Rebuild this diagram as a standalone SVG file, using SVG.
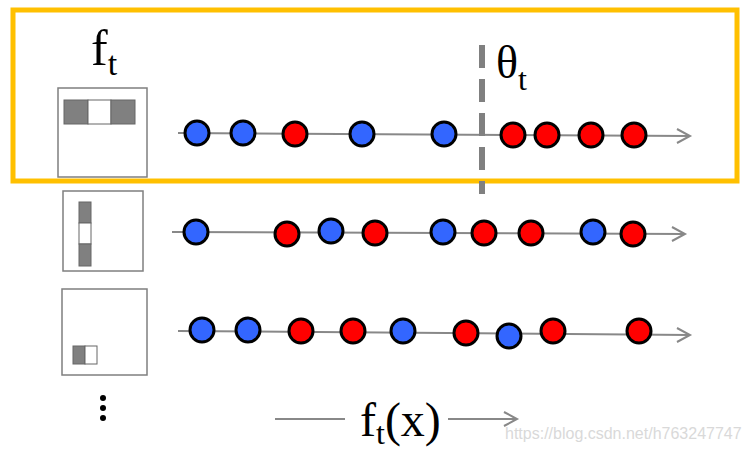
<svg xmlns="http://www.w3.org/2000/svg" width="749" height="452" viewBox="0 0 749 452">
<style>
.axis{stroke:#888;stroke-width:2;fill:none}
.head{stroke:#888;stroke-width:2;fill:none}
.b{fill:#3366FF;stroke:#000;stroke-width:3}
.r{fill:#FF0000;stroke:#000;stroke-width:3}
.box{fill:#fff;stroke:#7f7f7f;stroke-width:1.5}
.g{fill:#808080;stroke:#666;stroke-width:1}
.w{fill:#fff;stroke:#666;stroke-width:1}
.tm{font-family:"Liberation Serif","Times New Roman",serif;fill:#000}
</style>
<rect width="749" height="452" fill="#fff"/>
<rect id="highlight" x="13" y="10" width="724" height="171" fill="none" stroke="#FFC000" stroke-width="5"/>
<g id="connectors">
<line class="axis" x1="178" y1="133" x2="690" y2="136"/>
<polyline class="head" points="677,129 690,136 677,143"/>
<line class="axis" x1="172" y1="232" x2="685" y2="234"/>
<polyline class="head" points="672,227 685,234 672,241"/>
<line class="axis" x1="178" y1="331" x2="690" y2="335"/>
<polyline class="head" points="677,328 690,335 677,342"/>
<line class="axis" x1="275" y1="419" x2="345" y2="419"/>
<line class="axis" x1="448" y1="419" x2="517" y2="419"/>
<polyline class="head" points="504,412 517,419 504,426"/>
<line id="threshold" x1="482" y1="45" x2="482" y2="194" stroke="#808080" stroke-width="6" stroke-dasharray="23,11"/>
</g>
<g id="label-ft"><text class="tm" x="91" y="65" font-size="50">f<tspan font-size="34" dy="10">t</tspan></text></g>
<g id="label-theta"><text class="tm" x="496" y="78" font-size="46">θ<tspan font-size="32" dy="12">t</tspan></text></g>
<g id="filter1">
<rect class="box" x="58" y="88" width="89" height="89"/>
<rect class="g" x="64" y="100" width="24" height="24"/>
<rect class="w" x="88" y="100" width="23" height="24"/>
<rect class="g" x="111" y="100" width="24" height="24"/>
</g>
<g id="filter2">
<rect class="box" x="63" y="191" width="80" height="80"/>
<rect class="g" x="79" y="202" width="12" height="21"/>
<rect class="w" x="79" y="223" width="12" height="21"/>
<rect class="g" x="79" y="244" width="12" height="22"/>
</g>
<g id="filter3">
<rect class="box" x="62" y="289" width="85" height="86"/>
<rect class="g" x="73" y="346" width="12" height="18"/>
<rect class="w" x="85" y="346" width="12" height="18"/>
</g>
<g id="ellipsis">
<circle cx="103" cy="398" r="3"/><circle cx="103" cy="408" r="3"/><circle cx="103" cy="418" r="3"/>
</g>
<g id="row1">
<circle class="b" cx="197" cy="133" r="12"/>
<circle class="b" cx="243" cy="133" r="12"/>
<circle class="r" cx="295" cy="134" r="12"/>
<circle class="b" cx="362" cy="134" r="12"/>
<circle class="b" cx="444" cy="134" r="12"/>
<circle class="r" cx="513" cy="135" r="12"/>
<circle class="r" cx="547" cy="135" r="12"/>
<circle class="r" cx="591" cy="135" r="12"/>
<circle class="r" cx="634" cy="135" r="12"/>
</g>
<g id="row2">
<circle class="b" cx="196" cy="232" r="12"/>
<circle class="r" cx="287" cy="234" r="12"/>
<circle class="b" cx="331" cy="231" r="12"/>
<circle class="r" cx="375" cy="233" r="12"/>
<circle class="b" cx="443" cy="232" r="12"/>
<circle class="r" cx="484" cy="233" r="12"/>
<circle class="r" cx="531" cy="233" r="12"/>
<circle class="b" cx="593" cy="232" r="12"/>
<circle class="r" cx="633" cy="234" r="12"/>
</g>
<g id="row3">
<circle class="b" cx="202" cy="330" r="12"/>
<circle class="b" cx="248" cy="330" r="12"/>
<circle class="r" cx="301" cy="331" r="12"/>
<circle class="r" cx="353" cy="331" r="12"/>
<circle class="b" cx="403" cy="331" r="12"/>
<circle class="r" cx="466" cy="333" r="12"/>
<circle class="b" cx="509" cy="336" r="12"/>
<circle class="r" cx="553" cy="331" r="12"/>
<circle class="r" cx="639" cy="331" r="12"/>
</g>
<g id="label-fx"><text class="tm" x="360" y="436" font-size="48">f<tspan font-size="32" dy="8">t</tspan><tspan dy="-8">(x)</tspan></text></g>
<text x="505" y="439" font-family="Liberation Sans,Arial,sans-serif" font-size="16" fill="#d9d9d9">https://blog.csdn.net/h763247747</text>
</svg>
